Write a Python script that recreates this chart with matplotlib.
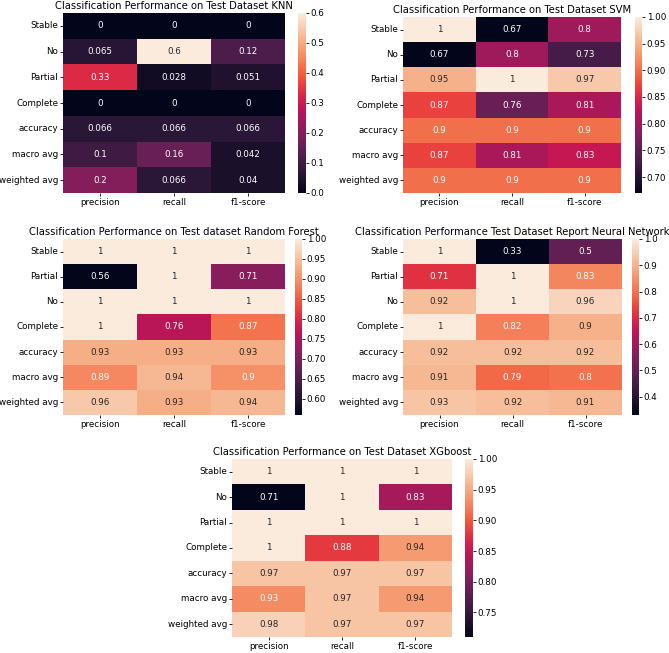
import numpy as np
import seaborn as sns
import matplotlib
matplotlib.use('Agg')
import matplotlib.pyplot as plt

cols = ['precision', 'recall', 'f1-score']

# KNN
knn_rows = ['Stable', 'No', 'Partial', 'Complete', 'accuracy', 'macro avg', 'weighted avg']
knn_vals = [[0, 0, 0],
            [0.065, 0.6, 0.12],
            [0.33, 0.028, 0.051],
            [0, 0, 0],
            [0.066, 0.066, 0.066],
            [0.1, 0.16, 0.042],
            [0.2, 0.066, 0.04]]

# SVM
svm_rows = ['Stable', 'No', 'Partial', 'Complete', 'accuracy', 'macro avg', 'weighted avg']
svm_vals = [[1, 0.67, 0.8],
            [0.67, 0.8, 0.73],
            [0.95, 1, 0.97],
            [0.87, 0.76, 0.81],
            [0.9, 0.9, 0.9],
            [0.87, 0.81, 0.83],
            [0.9, 0.9, 0.9]]

# Random Forest
rf_rows = ['Stable', 'Partial', 'No', 'Complete', 'accuracy', 'macro avg', 'weighted avg']
rf_vals = [[1, 1, 1],
           [0.56, 1, 0.71],
           [1, 1, 1],
           [1, 0.76, 0.87],
           [0.93, 0.93, 0.93],
           [0.89, 0.94, 0.9],
           [0.96, 0.93, 0.94]]

# Neural Network
nn_rows = ['Stable', 'Partial', 'No', 'Complete', 'accuracy', 'macro avg', 'weighted avg']
nn_vals = [[1, 0.33, 0.5],
           [0.71, 1, 0.83],
           [0.92, 1, 0.96],
           [1, 0.82, 0.9],
           [0.92, 0.92, 0.92],
           [0.91, 0.79, 0.8],
           [0.93, 0.92, 0.91]]

# XGBoost
xgb_rows = ['Stable', 'No', 'Partial', 'Complete', 'accuracy', 'macro avg', 'weighted avg']
xgb_vals = [[1, 1, 1],
            [0.71, 1, 0.83],
            [1, 1, 1],
            [1, 0.88, 0.94],
            [0.97, 0.97, 0.97],
            [0.93, 0.97, 0.94],
            [0.98, 0.97, 0.97]]

W, H = 669, 653
fig = plt.figure(figsize=(W / 100, H / 100), dpi=100)


def box(x0, y0, x1, y1):
    return [x0 / W, 1 - y1 / H, (x1 - x0) / W, (y1 - y0) / H]


def panel(vals, rows, title, hm, cb):
    ax = fig.add_axes(box(*hm))
    cax = fig.add_axes(box(*cb))
    sns.heatmap(np.array(vals, dtype=float), annot=True, ax=ax, cbar_ax=cax,
                xticklabels=cols, yticklabels=rows, annot_kws={'size': 6.3})
    ax.set_title(title, fontsize=7.2, pad=3)
    ax.tick_params(labelsize=6.3, length=2, width=0.6, pad=1.5)
    ax.tick_params(axis='y', rotation=0)
    cax.tick_params(labelsize=6.3, length=2, width=0.6, pad=1.5)


panel(knn_vals, knn_rows, 'Classification Performance on Test Dataset KNN',
      (63, 13, 285, 193), (298, 13, 306, 193))
panel(svm_vals, svm_rows, 'Classification Performance on Test Dataset SVM',
      (403, 17, 621, 193), (635, 17, 642, 193))
panel(rf_vals, rf_rows, 'Classification Performance on Test dataset Random Forest',
      (63, 239, 285, 415), (295, 239, 302, 415))
panel(nn_vals, nn_rows, 'Classification Performance Test Dataset Report Neural Network',
      (403, 239, 622, 415), (632, 239, 639, 415))
panel(xgb_vals, xgb_rows, 'Classification Performance on Test Dataset XGboost',
      (232, 459, 452, 637), (465, 459, 473, 637))

fig.savefig('out.png', dpi=100)
